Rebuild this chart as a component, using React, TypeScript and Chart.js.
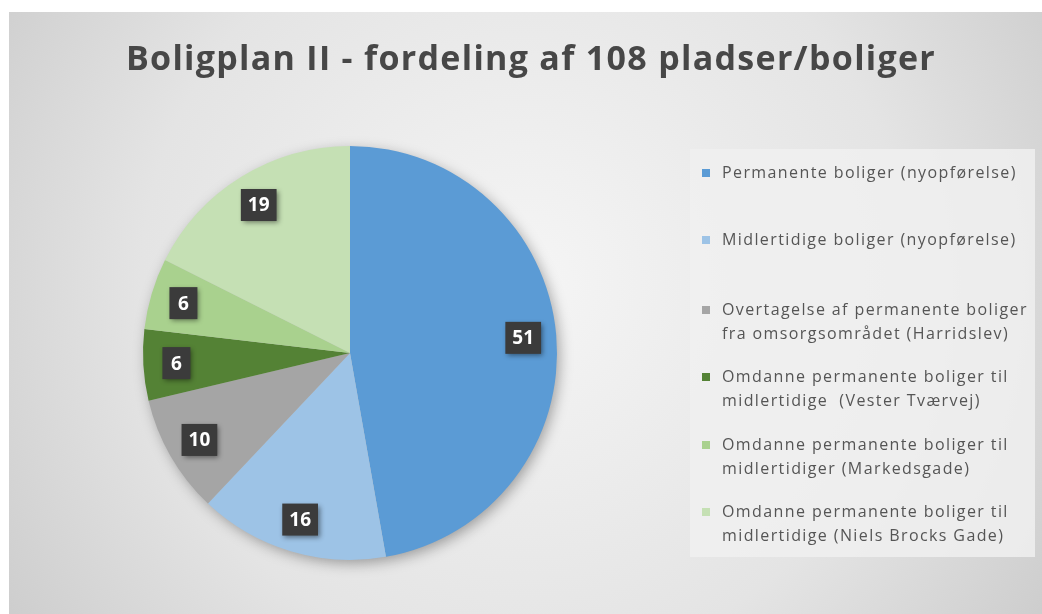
import React, { useEffect, useRef } from "react";
import { Chart, registerables } from "chart.js";
Chart.register(...registerables);

const TITLE = "Boligplan II - fordeling af 108 pladser/boliger";
const categories = [
  "Permanente boliger (nyopførelse)",
  "Midlertidige boliger (nyopførelse)",
  "Overtagelse af permanente boliger\nfra omsorgsområdet (Harridslev)",
  "Omdanne permanente boliger til\nmidlertidige  (Vester Tværvej)",
  "Omdanne permanente boliger til\nmidlertidiger (Markedsgade)",
  "Omdanne permanente boliger til\nmidlertidige (Niels Brocks Gade)",
];
const values = [51, 16, 10, 6, 6, 19];
const colors = ["#5b9bd5", "#9dc3e6", "#a5a5a5", "#548235", "#a9d18e", "#c5e0b4"];

const FONT = "'Open Sans', Lato, sans-serif";

const bgPlugin = {
  id: "bg",
  beforeDraw(chart: any) {
    const { ctx, width, height } = chart;
    ctx.save();
    const g = ctx.createRadialGradient(width * 0.5, height * 0.45, 0, width * 0.5, height * 0.45, width * 0.62);
    g.addColorStop(0, "#f5f5f5");
    g.addColorStop(0.6, "#e4e4e4");
    g.addColorStop(1, "#cbcbcb");
    ctx.fillStyle = g;
    ctx.fillRect(0, 0, width, height);
    ctx.fillStyle = "rgba(240,240,240,0.85)";
    ctx.fillRect(681, 137, 345, 408);
    ctx.restore();
  },
  beforeDatasetsDraw(chart: any) {
    const meta = chart.getDatasetMeta(0);
    const arc = meta.data[0];
    if (!arc) return;
    const { ctx } = chart;
    ctx.save();
    ctx.shadowColor = "rgba(0,0,0,0.35)";
    ctx.shadowBlur = 14;
    ctx.shadowOffsetX = 3;
    ctx.shadowOffsetY = 4;
    ctx.fillStyle = "#bbbbbb";
    ctx.beginPath();
    ctx.arc(arc.x, arc.y, arc.outerRadius - 1, 0, Math.PI * 2);
    ctx.fill();
    ctx.restore();
  },
  afterDatasetsDraw(chart: any) {
    const meta = chart.getDatasetMeta(0);
    const { ctx } = chart;
    ctx.save();
    meta.data.forEach((arc: any, i: number) => {
      const mid = (arc.startAngle + arc.endAngle) / 2;
      const r = arc.outerRadius * 0.84;
      const x = arc.x + Math.cos(mid) * r;
      const y = arc.y + Math.sin(mid) * r;
      const text = String(values[i]);
      ctx.font = `bold 19px ${FONT}`;
      const tw = ctx.measureText(text).width;
      const bw = Math.max(tw + 14, 28);
      const bh = 32;
      ctx.shadowColor = "rgba(0,0,0,0.45)";
      ctx.shadowBlur = 5;
      ctx.shadowOffsetX = 2;
      ctx.shadowOffsetY = 2;
      ctx.fillStyle = "#3b3b3b";
      ctx.fillRect(x - bw / 2, y - bh / 2, bw, bh);
      ctx.shadowColor = "transparent";
      ctx.fillStyle = "#ffffff";
      ctx.textAlign = "center";
      ctx.textBaseline = "middle";
      ctx.fillText(text, x, y + 1);
    });
    ctx.restore();
  },
  afterDraw(chart: any) {
    const { ctx } = chart;
    ctx.save();
    ctx.fillStyle = "#474747";
    ctx.font = `bold 34px ${FONT}`;
    (ctx as any).letterSpacing = "1.3px";
    ctx.textAlign = "center";
    ctx.textBaseline = "middle";
    ctx.fillText(TITLE, 522, 48);
    const ys = [161, 228, 298, 365, 433, 500];
    ctx.font = `16px ${FONT}`;
    (ctx as any).letterSpacing = "1.4px";
    ctx.textAlign = "left";
    categories.forEach((c, i) => {
      const lines = c.split("\n");
      ctx.fillStyle = colors[i];
      ctx.fillRect(693, ys[i] - 4, 8, 8);
      ctx.fillStyle = "#555555";
      lines.forEach((ln, j) => {
        ctx.fillText(ln, 713, ys[i] + j * 24);
      });
    });
    ctx.restore();
  },
};

export default function App() {
  const ref = useRef<HTMLCanvasElement>(null);
  useEffect(() => {
    if (!ref.current) return;
    const chart = new Chart(ref.current, {
      type: "pie",
      data: {
        labels: categories,
        datasets: [
          {
            data: values,
            backgroundColor: colors,
            borderWidth: 0,
          },
        ],
      },
      options: {
        animation: false,
        responsive: true,
        maintainAspectRatio: false,
        layout: { padding: { left: 134, top: 134, right: 485, bottom: 54 } },
        plugins: {
          legend: { display: false },
          title: { display: false },
          tooltip: { enabled: false },
        },
      },
      plugins: [bgPlugin],
    });
    return () => chart.destroy();
  }, []);
  return (
    <div style={{ position: "fixed", left: 9, top: 12, width: 1033, height: 602 }}>
      <canvas ref={ref} />
    </div>
  );
}
